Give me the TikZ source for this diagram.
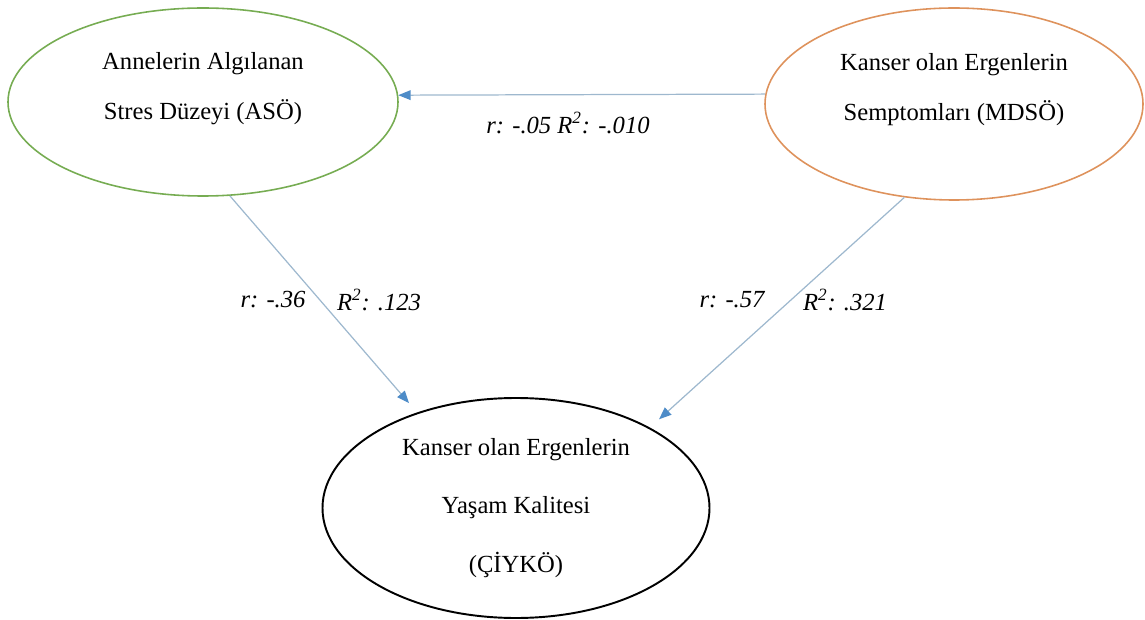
\documentclass[tikz,border=0pt]{standalone}
\usepackage{fontspec}
\setmainfont{Liberation Serif}
\usepackage{tikz}
\usetikzlibrary{arrows.meta, positioning, shapes.geometric}

\definecolor{asgreen}{RGB}{118,172,82}
\definecolor{mdorange}{RGB}{222,146,92}
\definecolor{linkgray}{RGB}{158,184,206}
\definecolor{tipblue}{RGB}{78,140,200}

\begin{document}
\begin{tikzpicture}[>={Triangle[length=7pt,width=5.5pt,color=tipblue]}, font=\fontsize{14}{17}\selectfont]
  \tikzset{
    var/.style={
      ellipse,
      draw=black,
      line width=0.9pt,
      inner sep=0pt,
      align=center},
    link/.style={
      ->,
      color=linkgray,
      line width=0.7pt},
    coef/.style={
      font=\fontsize{14}{17}\selectfont\itshape}}

  \useasboundingbox (0,0) rectangle (22.9,12.38);

  \node[var, draw=asgreen, minimum width=7.8cm, minimum height=3.76cm,
        label={[align=center, yshift=0.26cm]center:Annelerin Algılanan\\[0.4cm]Stres Düzeyi (ASÖ)}]
        (aso) at (4.06,10.34) {};
  \node[var, draw=mdorange, minimum width=7.56cm, minimum height=3.84cm,
        label={[align=center, yshift=0.28cm]center:Kanser olan Ergenlerin\\[0.4cm]Semptomları (MDSÖ)}]
        (mdso) at (19.08,10.3) {};
  \node[var, line width=1.1pt, minimum width=7.74cm, minimum height=4.4cm]
        (ciyko) at (10.32,2.22) {Kanser olan Ergenlerin\\[0.57cm]Yaşam Kalitesi\\[0.57cm](ÇİYKÖ)};

  \path[link] (mdso.177) edge (aso.2.4);
  \path[link, shorten >=7pt] (aso.-74) edge (ciyko.136);
  \path[link, shorten >=7pt] (mdso.-118) edge (ciyko.31.5);

  \node[coef] (c1) at (11.36,9.92) {r: -.05 R\textsuperscript{2}: -.010};
  \node[coef] (c2) at (5.46,6.38) {r: -.36};
  \node[coef] (c3) at (7.58,6.38) {R\textsuperscript{2}: .123};
  \node[coef] (c4) at (14.64,6.38) {r: -.57};
  \node[coef] (c5) at (16.9,6.38) {R\textsuperscript{2}: .321};

\end{tikzpicture}
\end{document}
